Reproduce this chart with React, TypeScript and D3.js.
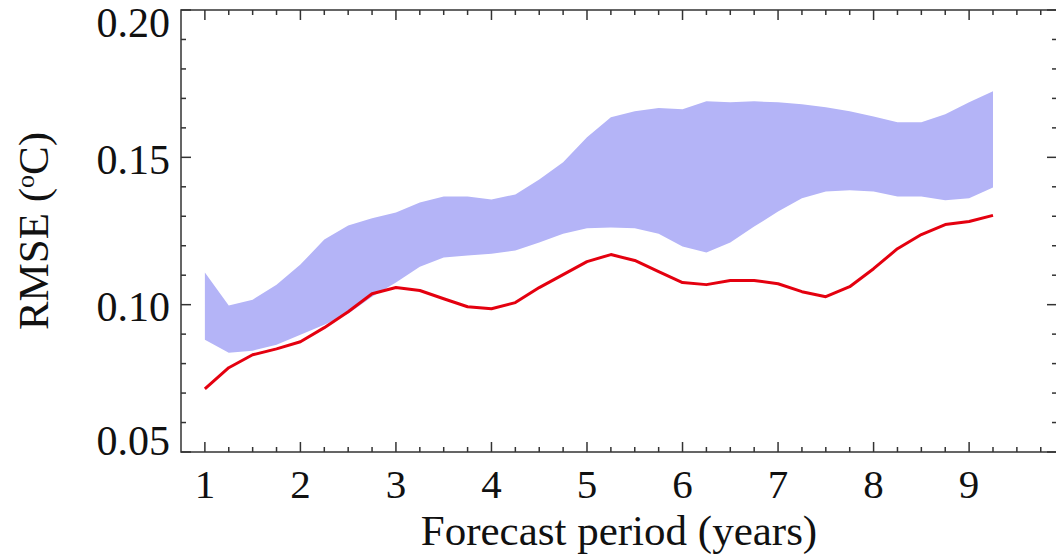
import { useRef, useEffect } from 'react';
import * as d3 from 'd3';

// forecast lead time (years), every quarter year
const leadTimes = [
  1, 1.25, 1.5, 1.75, 2, 2.25, 2.5, 2.75, 3, 3.25, 3.5, 3.75, 4, 4.25, 4.5, 4.75,
  5, 5.25, 5.5, 5.75, 6, 6.25, 6.5, 6.75, 7, 7.25, 7.5, 7.75, 8, 8.25, 8.5, 8.75, 9, 9.25,
];

// red line
const rmseLine = [
  0.0714, 0.0786, 0.083, 0.085, 0.0874, 0.0922, 0.0976, 0.1037, 0.1058, 0.1048, 0.102,
  0.0993, 0.0986, 0.1007, 0.1058, 0.1102, 0.1146, 0.117, 0.115, 0.1112, 0.1075, 0.1068,
  0.1082, 0.1082, 0.1071, 0.1044, 0.1027, 0.1061, 0.1122, 0.119, 0.1238, 0.1272, 0.1282, 0.1303,
];

// shaded band (upper / lower edge)
const bandUpper = [
  0.1109, 0.0997, 0.1017, 0.1068, 0.1136, 0.1221, 0.1269, 0.1293, 0.1313, 0.1347, 0.1367,
  0.1367, 0.1357, 0.1374, 0.1425, 0.1483, 0.1568, 0.1636, 0.1656, 0.1667, 0.1663, 0.169,
  0.1687, 0.169, 0.1687, 0.168, 0.167, 0.1656, 0.1639, 0.1619, 0.1619, 0.1646, 0.1687, 0.1724,
];
const bandLower = [
  0.0881, 0.0837, 0.0844, 0.0864, 0.0898, 0.0932, 0.0969, 0.1027, 0.1075, 0.1129, 0.116,
  0.1167, 0.1173, 0.1184, 0.1211, 0.1241, 0.1259, 0.1262, 0.1259, 0.1241, 0.1197, 0.1177,
  0.1211, 0.1265, 0.1316, 0.1361, 0.1384, 0.1388, 0.1384, 0.1367, 0.1367, 0.1354, 0.1361, 0.1398,
];

const xMajor = [1, 2, 3, 4, 5, 6, 7, 8, 9];
const xMinor = d3.range(1, 9.76, 0.25);
const yMajor = [0.05, 0.1, 0.15, 0.2];
const yMinor = d3.range(0.05, 0.2001, 0.01);

const W = 1056;
const H = 555;

const App = () => {
  const svgRef = useRef<SVGSVGElement | null>(null);

  useEffect(() => {
    const svg = d3.select(svgRef.current);
    svg.selectAll('*').remove();

    const left = 181, right = 1057, top = 10, bottom = 452;

    const x = d3.scaleLinear().domain([0.75, 9.92]).range([left, right]);
    const y = d3.scaleLinear().domain([0.05, 0.2]).range([bottom, top]);

    const rows = leadTimes.map((t, i) => ({ t, v: rmseLine[i], lo: bandLower[i], hi: bandUpper[i] }));

    const area = d3.area<typeof rows[0]>()
      .x(d => x(d.t))
      .y0(d => y(d.lo))
      .y1(d => y(d.hi));

    svg.append('path')
      .datum(rows)
      .attr('fill', '#b4b4f7')
      .attr('d', area);

    const line = d3.line<typeof rows[0]>()
      .x(d => x(d.t))
      .y(d => y(d.v));

    svg.append('path')
      .datum(rows)
      .attr('fill', 'none')
      .attr('stroke', '#e4000f')
      .attr('stroke-width', 3)
      .attr('stroke-linejoin', 'round')
      .attr('d', line);

    const axisColor = '#333';
    const g = svg.append('g').attr('stroke', axisColor).attr('stroke-width', 1.5);

    // frame
    g.append('rect')
      .attr('x', left).attr('y', top)
      .attr('width', right - left).attr('height', bottom - top)
      .attr('fill', 'none');

    // x ticks, bottom and top
    xMinor.forEach(t => {
      const major = xMajor.includes(t);
      const len = major ? 10 : 5;
      g.append('line').attr('x1', x(t)).attr('x2', x(t)).attr('y1', bottom).attr('y2', bottom - len);
      g.append('line').attr('x1', x(t)).attr('x2', x(t)).attr('y1', top).attr('y2', top + len);
    });

    // y ticks, left and right
    yMinor.forEach(v => {
      const major = yMajor.some(m => Math.abs(m - v) < 1e-6);
      const len = major ? 10 : 5;
      g.append('line').attr('x1', left).attr('x2', left + len).attr('y1', y(v)).attr('y2', y(v));
      g.append('line').attr('x1', right).attr('x2', right - len).attr('y1', y(v)).attr('y2', y(v));
    });

    const font = "'Liberation Serif', 'Times New Roman', serif";

    svg.selectAll('.xlab')
      .data(xMajor)
      .enter()
      .append('text')
      .attr('x', d => x(d))
      .attr('y', bottom + 46)
      .attr('text-anchor', 'middle')
      .style('font-family', font)
      .style('font-size', '41px')
      .attr('fill', '#111')
      .text(d => String(d));

    svg.selectAll('.ylab')
      .data(yMajor)
      .enter()
      .append('text')
      .attr('x', left - 11)
      .attr('y', d => y(d) + (d === 0.2 ? 12 : d === 0.05 ? -12 : 2))
      .attr('dy', '0.35em')
      .attr('text-anchor', 'end')
      .style('font-family', font)
      .style('font-size', '42px')
      .attr('fill', '#111')
      .text(d => d.toFixed(2));

    svg.append('text')
      .attr('x', (left + right) / 2)
      .attr('y', 545)
      .attr('text-anchor', 'middle')
      .style('font-family', font)
      .style('font-size', '43px')
      .attr('fill', '#111')
      .text('Forecast period (years)');

    const yt = svg.append('text')
      .attr('transform', `translate(48,${(top + bottom) / 2}) rotate(-90)`)
      .attr('text-anchor', 'middle')
      .style('font-family', font)
      .style('font-size', '43px')
      .attr('fill', '#111');
    yt.append('tspan').text('RMSE (');
    yt.append('tspan').attr('dy', -14).style('font-size', '26px').text('o');
    yt.append('tspan').attr('dy', 14).text('C)');
  }, []);

  return (
    <svg
      ref={svgRef}
      width={W}
      height={H}
      style={{ position: 'absolute', left: 0, top: 0, background: '#fff' }}
    ></svg>
  );
};

export default App;
